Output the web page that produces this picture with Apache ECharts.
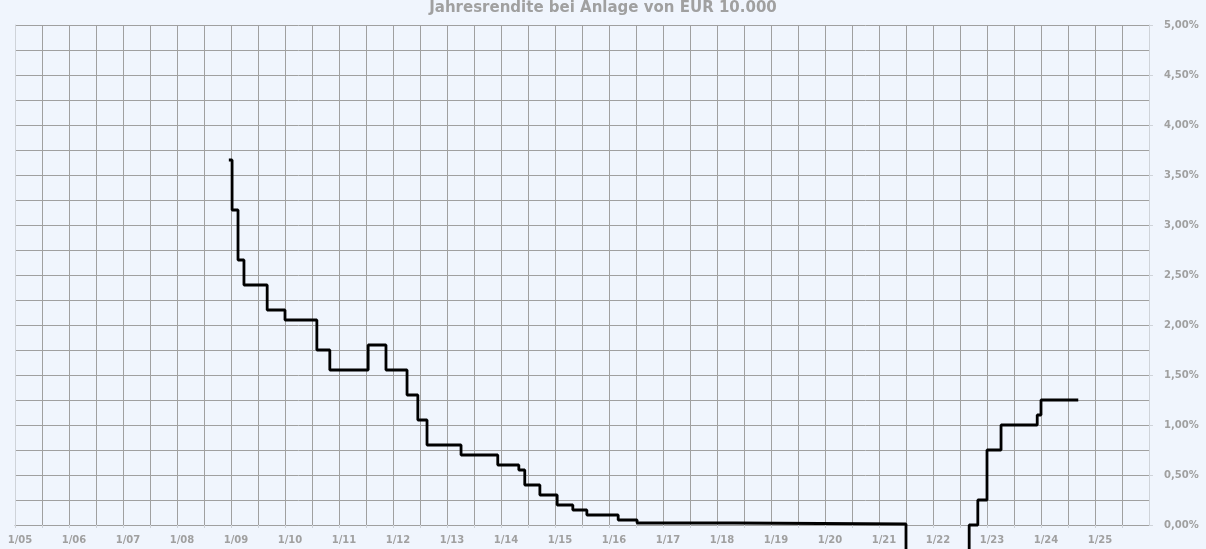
<!DOCTYPE html>
<html>
<head>
<meta charset="utf-8">
<script src="https://cdn.jsdelivr.net/npm/echarts@6/dist/echarts.min.js"></script>
<style>
html,body{margin:0;padding:0;background:#f0f5fd;}
#c{width:1206px;height:549px;}
</style>
</head>
<body>
<div id="c"></div>
<script>
// Step dates (decimal years) and annual yield (%) valid from that date
var stepDates = [2008.96, 2009.02, 2009.13, 2009.24, 2009.67, 2010.00, 2010.59, 2010.83, 2011.54, 2011.87,
                 2012.26, 2012.46, 2012.63, 2013.26, 2013.94, 2014.33, 2014.44, 2014.72, 2015.04, 2015.33,
                 2015.59, 2016.17, 2016.52, 2018.33, 2021.50, 2022.67, 2022.83, 2023.00, 2023.26, 2023.93,
                 2024.00, 2024.69];
var yieldPct  = [3.65, 3.15, 2.65, 2.40, 2.15, 2.05, 1.75, 1.55, 1.80, 1.55,
                 1.30, 1.05, 0.80, 0.70, 0.60, 0.55, 0.40, 0.30, 0.20, 0.15,
                 0.10, 0.05, 0.02, 0.01, -1.00, 0.00, 0.25, 0.75, 1.00, 1.10,
                 1.25, 1.25];
var titleText = 'Jahresrendite bei Anlage von EUR 10.000';

var data = stepDates.map(function (d, i) { return [d, yieldPct[i]]; });
var gridCol = '#a0a0a0', lightCol = '#cfd3d9', txtCol = '#a0a0a0';
var font = 'DejaVu Sans, Verdana, sans-serif';

var chart = echarts.init(document.getElementById('c'), null, {renderer: 'canvas'});
chart.setOption({
  backgroundColor: '#f0f5fd',
  animation: false,
  title: {
    text: titleText, left: 'center', top: -4,
    textStyle: {color: txtCol, fontSize: 15, fontWeight: 'bold', fontFamily: font}
  },
  grid: {left: 15, right: 57, top: 25, bottom: 24, containLabel: false},
  xAxis: {
    type: 'value', min: 2005, max: 2026, interval: 0.5,
    axisLine: {show: true, lineStyle: {color: gridCol, width: 1}},
    axisTick: {show: true, length: 3, lineStyle: {color: lightCol}},
    splitLine: {show: true, showMinLine: false, lineStyle: {color: gridCol, width: 1}},
    axisLabel: {
      color: txtCol, fontSize: 10, fontWeight: 'bold', fontFamily: font, margin: 10,
      padding: [0, 0, 0, 10], showMinLabel: true, showMaxLabel: false,
      formatter: function (v) {
        if (Math.abs(v - Math.round(v)) > 1e-6) return '';
        var y = Math.round(v);
        if (y > 2025) return '';
        return '1/' + String(y % 100).padStart(2, '0');
      }
    }
  },
  yAxis: [{
    type: 'value', position: 'right', min: 0, max: 5, interval: 0.5,
    axisLine: {show: true, lineStyle: {color: lightCol, width: 1}},
    axisTick: {show: true, length: 4, lineStyle: {color: lightCol}},
    splitLine: {show: true, lineStyle: {color: gridCol, width: 1}},
    minorTick: {show: false, splitNumber: 2},
    minorSplitLine: {show: true, lineStyle: {color: gridCol, width: 1}},
    axisLabel: {
      color: txtCol, fontSize: 10, fontWeight: 'bold', fontFamily: font, margin: 15,
      formatter: function (v) { return v.toFixed(2).replace('.', ',') + '%'; }
    }
  }, {
    type: 'value', position: 'left', min: 0, max: 5, interval: 0.5,
    axisLine: {show: true, onZero: false, lineStyle: {color: lightCol, width: 1}},
    axisTick: {show: false}, axisLabel: {show: false}, splitLine: {show: false}
  }],
  series: [{
    type: 'line', step: 'end', data: data, showSymbol: false, symbol: 'none',
    clip: false,
    lineStyle: {color: '#000000', width: 2.8},
    z: 5
  }]
});
</script>
</body>
</html>
